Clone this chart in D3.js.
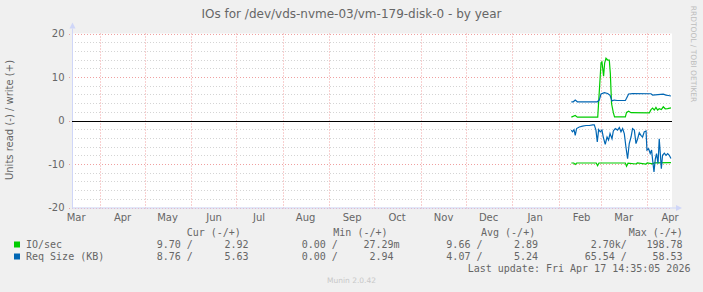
<!DOCTYPE html>
<html>
<head>
<meta charset="utf-8">
<script src="https://cdn.jsdelivr.net/npm/d3@7"></script>
<style>
  body { margin: 0; background: #f0f0f0; }
  svg text { font-family: "DejaVu Sans", sans-serif; fill: #666; }
  .mono { font-family: "DejaVu Sans Mono", monospace; font-size: 10px; white-space: pre; }
</style>
</head>
<body>
<svg id="chart" width="703" height="292"></svg>
<script>
// values, days counted from 1 Feb 2026
const ioWriteDays = [8.5, 11.1, 12.5, 26.1, 28.3, 28.9, 30, 30.7, 31.6, 32.7, 33.8, 34.5, 35.3, 36.5, 37.3, 44.5, 45.3, 46.7, 48.3, 60.5, 61.6, 62.7, 63.8, 64.9, 66, 67.1, 68.5, 69.8, 71.1, 72.7, 74.9];
const ioWrite = [0.77, 1.15, 0.77, 0.77, 13.3, 13.5, 10.2, 13.2, 14.3, 13.9, 13.9, 10.8, 3.9, 1.8, 0.85, 0.85, 1.85, 2.15, 1.8, 1.75, 2.5, 2.85, 2.4, 3.0, 2.4, 2.7, 2.5, 3.15, 2.7, 2.75, 2.92];

const ioReadDays = [8.5, 10.1, 11.1, 12.1, 25.1, 26, 26.9, 44.5, 45.3, 46.3, 51.6, 52.5, 58.3, 59.1, 62.7, 63.8, 74.9];
const ioRead = [9.77, 9.77, 10.1, 9.77, 9.77, 10.4, 9.77, 9.77, 10.5, 9.8, 10.0, 9.75, 10.0, 9.75, 9.95, 9.75, 9.70];

const reqWriteDays = [8.5, 9.8, 11.1, 12.5, 25.8, 27.1, 28.3, 30.5, 32.7, 34.3, 35.6, 37.1, 39.1, 44.5, 45.3, 46.7, 49.3, 61.6, 62.7, 69.8, 71.6, 73.1, 74.9];
const reqWrite = [4.3, 4.3, 4.7, 4.3, 4.3, 4.7, 6.1, 6.4, 6.2, 5.8, 4.5, 4.7, 4.6, 4.6, 5.1, 6.1, 6.2, 6.15, 5.85, 6.05, 5.85, 5.75, 5.63];

const reqReadDays = [8.5, 9.3, 10.3, 11.1, 12, 13.8, 16, 18.3, 20.5, 22.7, 23.8, 24.9, 25.8, 26.7, 27.8, 28.9, 29.8, 31.1, 32.3, 33.3, 34.3, 35.6, 36.5, 37.8, 39.3, 40.5, 41.6, 42.7, 43.8, 44.9, 46, 47.1, 48.3, 49.3, 50.5, 51.6, 52.7, 53.8, 54.9, 56, 57.1, 58.3, 58.9, 60, 61.1, 62, 62.7, 63.6, 64.5, 65.3, 66.3, 67.1, 67.8, 68.5, 69.3, 70.5, 71.6, 72.7, 73.8, 74.9];
const reqRead = [2.2, 2.6, 2.1, 3.4, 1.85, 1.5, 1.3, 1.15, 1.15, 1.0, 1.0, 2.2, 4.9, 2.1, 2.6, 2.2, 3.8, 5.5, 3.8, 4.5, 3.0, 4.2, 2.4, 1.85, 2.2, 1.6, 2.6, 1.85, 3.0, 6.1, 8.8, 5.3, 3.8, 1.85, 2.2, 5.3, 4.2, 2.8, 3.4, 3.8, 2.6, 2.4, 6.8, 6.5, 7.6, 6.8, 9.15, 11.8, 8.8, 7.6, 9.9, 4.2, 7.6, 11.1, 8.0, 7.5, 8.0, 7.6, 8.0, 8.76];

const yTicks = [-20, -10, 0, 10, 20];
const yTickLabels = ["-20", "-10", "0", "10", "20"];

const legendNames = ["IO/sec", "Req Size (KB)"];
const legendColors = ["#00cc00", "#0066b3"];
const statHeaders = ["Cur (-/+)", "Min (-/+)", "Avg (-/+)", "Max (-/+)"];
// per row: [read, write] for cur, min, avg, max
const ioStats = [["9.70", "2.92"], ["0.00", "27.29m"], ["9.66", "2.89"], ["2.70k", "198.78"]];
const reqStats = [["8.76", "5.63"], ["0.00", "2.94"], ["4.07", "5.24"], ["65.54", "58.53"]];

const titleText = "IOs for /dev/vds-nvme-03/vm-179-disk-0 - by year";
const yLabel = "Units read (-) / write (+)";
const lastUpdate = "Last update: Fri Apr 17 14:35:05 2026";

const svg = d3.select("#chart");
const plotLeft = 72, plotRight = 672, plotTop = 33.5, plotBottom = 207.5;

const endTime = new Date(2026, 3, 17, 14, 35, 5);
const startTime = new Date(endTime.getTime() - 400 * 864e5);
const base = new Date(2026, 1, 1).getTime();
const toDate = d => new Date(base + d * 864e5);

const x = d3.scaleTime().domain([startTime, endTime]).range([plotLeft, plotRight]);
const y = d3.scaleLinear().domain([-20, 20]).range([plotBottom, plotTop]);

// canvas
svg.append("rect").attr("x", plotLeft).attr("y", plotTop).attr("width", plotRight - plotLeft).attr("height", plotBottom - plotTop).attr("fill", "#fff");

// minor horizontal grid every 2
const minor = d3.range(-18, 20, 2).filter(v => v % 10 !== 0);
svg.selectAll(".hminor").data(minor).enter().append("line")
  .attr("x1", plotLeft).attr("x2", plotRight)
  .attr("y1", d => Math.round(y(d)) + 0.5).attr("y2", d => Math.round(y(d)) + 0.5)
  .attr("stroke", "#d4d4d4").attr("stroke-dasharray", "1,2");

// major horizontal grid
svg.selectAll(".hmajor").data(yTicks).enter().append("line")
  .attr("x1", plotLeft - 3).attr("x2", plotRight)
  .attr("y1", d => Math.round(y(d)) + 0.5).attr("y2", d => Math.round(y(d)) + 0.5)
  .attr("stroke", "#f0a0a0").attr("stroke-dasharray", "1,2");

// month grid
const monthStarts = d3.timeMonth.range(d3.timeMonth.floor(startTime), endTime).filter(m => m >= startTime);
svg.selectAll(".vmajor").data(monthStarts).enter().append("line")
  .attr("x1", d => Math.round(x(d)) + 0.5).attr("x2", d => Math.round(x(d)) + 0.5)
  .attr("y1", plotTop).attr("y2", plotBottom + 3)
  .attr("stroke", "#f0a0a0").attr("stroke-dasharray", "1,2");

// axis lines and arrows
svg.append("line").attr("x1", plotLeft + 0.5).attr("x2", plotLeft + 0.5).attr("y1", plotBottom + 1).attr("y2", plotTop - 5)
  .attr("stroke", "#cfd6f8");
svg.append("line").attr("x1", plotLeft).attr("x2", plotRight + 4).attr("y1", plotBottom + 0.5).attr("y2", plotBottom + 0.5)
  .attr("stroke", "#cfd6f8");
svg.append("path").attr("d", `M${plotLeft - 2.5},${plotTop - 5} L${plotLeft + 3.5},${plotTop - 5} L${plotLeft + 0.5},${plotTop - 11} Z`).attr("fill", "#cfd6f8");
svg.append("path").attr("d", `M${plotRight + 4},${plotBottom - 2.5} L${plotRight + 4},${plotBottom + 3.5} L${plotRight + 10},${plotBottom + 0.5} Z`).attr("fill", "#cfd6f8");

// zero line
svg.append("line").attr("x1", plotLeft).attr("x2", plotRight).attr("y1", Math.round(y(0)) + 0.5).attr("y2", Math.round(y(0)) + 0.5)
  .attr("stroke", "#000");

// y axis labels
const yAxis = d3.axisLeft(y).tickValues(yTicks).tickFormat((d, i) => yTickLabels[i]).tickSize(0).tickPadding(7.5);
const gy = svg.append("g").attr("transform", `translate(${plotLeft},0)`).call(yAxis);
gy.select(".domain").remove();
gy.selectAll("text").attr("font-size", 10).attr("font-family", null).style("fill", "#666");

// x axis labels, mid month
const labelDates = d3.timeMonth.range(d3.timeMonth.floor(startTime), endTime)
  .map(m => new Date(m.getTime() + 15 * 864e5))
  .filter(d => d >= startTime && d <= endTime);
const xAxis = d3.axisBottom(x).tickValues(labelDates).tickFormat(d3.timeFormat("%b")).tickSize(0);
const gx = svg.append("g").attr("transform", `translate(0,${plotBottom})`).call(xAxis);
gx.select(".domain").remove();
gx.selectAll("text").attr("dy", null).attr("y", 13.5).attr("font-size", 10).attr("font-family", null).style("fill", "#666");

// series
const line = d3.line().x(d => x(toDate(d[0]))).y(d => y(d[1]));
const series = [
  { days: ioReadDays, vals: ioRead.map(v => -v), color: legendColors[0] },
  { days: ioWriteDays, vals: ioWrite, color: legendColors[0] },
  { days: reqReadDays, vals: reqRead.map(v => -v), color: legendColors[1] },
  { days: reqWriteDays, vals: reqWrite, color: legendColors[1] }
];
series.forEach(s => {
  svg.append("path").datum(d3.zip(s.days, s.vals))
    .attr("d", line).attr("fill", "none").attr("stroke", s.color).attr("stroke-width", 1.2);
});

// title and labels
svg.append("text").attr("x", 351.5).attr("y", 18).attr("text-anchor", "middle").attr("font-size", 12).text(titleText);
svg.append("text").attr("transform", "translate(13,120) rotate(-90)").attr("text-anchor", "middle").attr("font-size", 10).text(yLabel);
svg.append("text").attr("transform", "translate(691,54) rotate(90)").attr("text-anchor", "middle").attr("font-size", 7.5)
  .style("fill", "#bdbdbd").text("RRDTOOL / TOBI OETIKER");

// legend
const readX = [144.7, 289.7, 434.3, 578.7];
const headerX = [186.7, 333.3, 481, 628.7];
const rowY = [247.5, 259.5];
statHeaders.forEach((h, i) => {
  svg.append("text").attr("class", "mono").attr("x", headerX[i]).attr("y", 235.5).text(h);
});
[ioStats, reqStats].forEach((stats, r) => {
  svg.append("rect").attr("x", 14).attr("y", rowY[r] - 6).attr("width", 6).attr("height", 6).attr("fill", legendColors[r]);
  svg.append("text").attr("class", "mono").attr("x", 26).attr("y", rowY[r]).text(legendNames[r]);
  stats.forEach((pair, i) => {
    const rd = pair[0].match(/^([\d.]+)(\D?)$/);
    const wr = pair[1].match(/^([\d.]+)(\D?)$/);
    svg.append("text").attr("class", "mono").attr("x", readX[i]).attr("y", rowY[r])
      .text(rd[1].padStart(6, " ") + (rd[2] || " ") + "/");
    svg.append("text").attr("class", "mono").attr("x", readX[i] + 67.7).attr("y", rowY[r])
      .text(wr[1].padStart(6, " ") + wr[2]);
  });
});
svg.append("text").attr("class", "mono").attr("x", 467.7).attr("y", 271.5).text(lastUpdate);
svg.append("text").attr("x", 351.5).attr("y", 283).attr("text-anchor", "middle").attr("font-size", 7.5)
  .style("fill", "#c8c8c8").text("Munin 2.0.42");
</script>
</body>
</html>
